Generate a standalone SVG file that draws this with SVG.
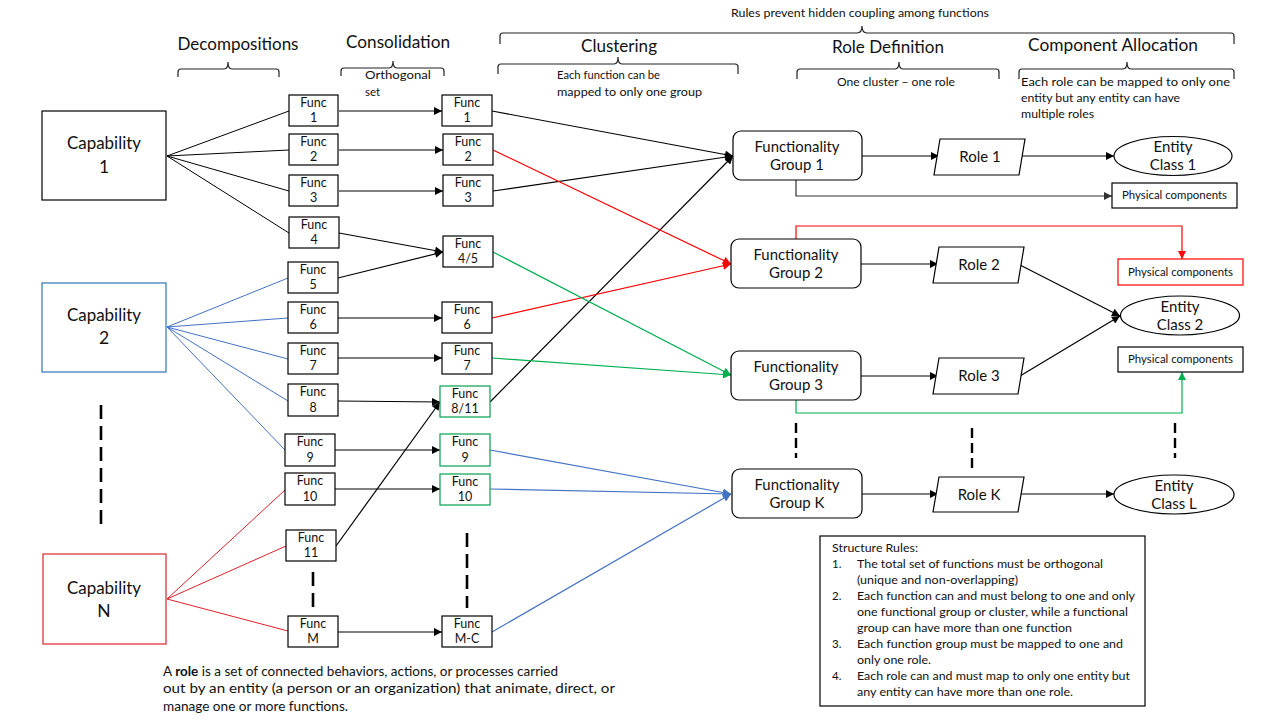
<svg xmlns="http://www.w3.org/2000/svg" width="1280" height="720" viewBox="0 0 1280 720">
<defs>
<style>
text{font-family:Lato,"Liberation Sans",sans-serif;fill:#111}
.hd{font-size:17px;text-anchor:middle}
.sm{font-size:11.5px}
.smc{font-size:11.5px;text-anchor:middle}
.fn{font-size:12.5px;text-anchor:middle}
.cap{font-size:17.5px;text-anchor:middle}
.md{font-size:15px;text-anchor:middle}
.box{fill:#fff;stroke:#000;stroke-width:1.2}
.gbox{fill:#fff;stroke:#00A050;stroke-width:1.2}
.br{fill:none;stroke:#222;stroke-width:1.2}
.k{fill:none;stroke:#000;stroke-width:1.2}
.kg{fill:none;stroke:#333;stroke-width:1.2}
.r{fill:none;stroke:#FF0000;stroke-width:1.2}
.rc{fill:none;stroke:#E0202A;stroke-width:1}
.g{fill:none;stroke:#00B050;stroke-width:1.2}
.b{fill:none;stroke:#4472C4;stroke-width:1.2}
.bc{fill:none;stroke:#4472C4;stroke-width:1}
.kc{fill:none;stroke:#000;stroke-width:1}
.d1{fill:none;stroke:#000;stroke-width:2.6;stroke-dasharray:14 7}
.d2{fill:none;stroke:#000;stroke-width:2.4;stroke-dasharray:10 5}
</style>
<marker id="ak" viewBox="0 0 10 10" refX="10" refY="5" markerWidth="9" markerHeight="8" markerUnits="userSpaceOnUse" orient="auto"><path d="M0,0 L10,5 L0,10 z" fill="#000"/></marker>
<marker id="akg" viewBox="0 0 10 10" refX="10" refY="5" markerWidth="9" markerHeight="8" markerUnits="userSpaceOnUse" orient="auto"><path d="M0,0 L10,5 L0,10 z" fill="#333"/></marker>
<marker id="ar" viewBox="0 0 10 10" refX="10" refY="5" markerWidth="9" markerHeight="8" markerUnits="userSpaceOnUse" orient="auto"><path d="M0,0 L10,5 L0,10 z" fill="#FF0000"/></marker>
<marker id="ag" viewBox="0 0 10 10" refX="10" refY="5" markerWidth="9" markerHeight="8" markerUnits="userSpaceOnUse" orient="auto"><path d="M0,0 L10,5 L0,10 z" fill="#00B050"/></marker>
<marker id="ab" viewBox="0 0 10 10" refX="10" refY="5" markerWidth="9" markerHeight="8" markerUnits="userSpaceOnUse" orient="auto"><path d="M0,0 L10,5 L0,10 z" fill="#4472C4"/></marker>
</defs>
<rect width="1280" height="720" fill="#fff"/>

<g id="headers">
<text x="860" y="17" class="smc" textLength="258" lengthAdjust="spacingAndGlyphs">Rules prevent hidden coupling among functions</text>
<path class="br" d="M500,44 L500,36 Q500,33 503,33 L857,33 Q862,33 862,26 Q862,33 867,33 L1231,33 Q1234,33 1234,36 L1234,44"/>
<text x="238" y="50" class="hd" textLength="121" lengthAdjust="spacingAndGlyphs">Decompositions</text>
<path class="br" d="M178,77 L178,72 Q178,69 181,69 L224,69 Q228,69 228,62 Q228,69 232,69 L276,69 Q279,69 279,72 L279,77"/>
<text x="398" y="48" class="hd" textLength="104" lengthAdjust="spacingAndGlyphs">Consolidation</text>
<path class="br" d="M341,76 L341,71 Q341,68 344,68 L389,68 Q393,68 393,61 Q393,68 397,68 L441,68 Q444,68 444,71 L444,76"/>
<text x="365" y="79" class="sm" textLength="66" lengthAdjust="spacingAndGlyphs">Orthogonal</text>
<text x="365" y="96" class="sm">set</text>
<text x="619" y="52" class="hd" textLength="76" lengthAdjust="spacingAndGlyphs">Clustering</text>
<path class="br" d="M498,74 L498,67 Q498,64 501,64 L614,64 Q618,64 618,57 Q618,64 622,64 L735,64 Q738,64 738,67 L738,74"/>
<text x="557" y="79" class="sm" textLength="103" lengthAdjust="spacingAndGlyphs">Each function can be</text>
<text x="557" y="96" class="sm" textLength="145" lengthAdjust="spacingAndGlyphs">mapped to only one group</text>
<text x="888" y="53" class="hd" textLength="112" lengthAdjust="spacingAndGlyphs">Role Definition</text>
<path class="br" d="M797,79 L797,72 Q797,69 800,69 L895,69 Q899,69 899,62 Q899,69 903,69 L996,69 Q999,69 999,72 L999,79"/>
<text x="896" y="86" class="smc" textLength="118" lengthAdjust="spacingAndGlyphs">One cluster – one role</text>
<text x="1113" y="51" class="hd" textLength="170" lengthAdjust="spacingAndGlyphs">Component Allocation</text>
<path class="br" d="M1019,79 L1019,72 Q1019,69 1022,69 L1123,69 Q1127,69 1127,62 Q1127,69 1131,69 L1231,69 Q1234,69 1234,72 L1234,79"/>
<text x="1021" y="86" class="sm" textLength="209" lengthAdjust="spacingAndGlyphs">Each role can be mapped to only one</text>
<text x="1021" y="102" class="sm" textLength="159" lengthAdjust="spacingAndGlyphs">entity but any entity can have</text>
<text x="1021" y="118" class="sm" textLength="73" lengthAdjust="spacingAndGlyphs">multiple roles</text>
</g>

<g id="connectors">
<path class="kc" d="M167,156 L289,111 M167,156 L289,150 M167,156 L289,191 M167,156 L289,233"/>
<path class="bc" d="M167,327 L288,278 M167,327 L288,318 M167,327 L288,359 M167,327 L288,401 M167,327 L285,450"/>
<path class="rc" d="M167,599 L285,490 M167,599 L286,546 M167,599 L288,631"/>
<line class="k" x1="339" y1="111" x2="442" y2="111" marker-end="url(#ak)"/>
<line class="k" x1="339" y1="150" x2="443" y2="150" marker-end="url(#ak)"/>
<line class="k" x1="339" y1="191" x2="443" y2="191" marker-end="url(#ak)"/>
<line class="k" x1="339" y1="233" x2="443" y2="252" marker-end="url(#ak)"/>
<line class="k" x1="338" y1="278" x2="443" y2="252" marker-end="url(#ak)"/>
<line class="k" x1="338" y1="318" x2="442" y2="318" marker-end="url(#ak)"/>
<line class="k" x1="338" y1="358" x2="442" y2="358" marker-end="url(#ak)"/>
<line class="k" x1="338" y1="401" x2="440" y2="402" marker-end="url(#ak)"/>
<line class="k" x1="336" y1="546" x2="440" y2="402" marker-end="url(#ak)"/>
<line class="k" x1="335" y1="450" x2="440" y2="450" marker-end="url(#ak)"/>
<line class="k" x1="335" y1="489" x2="440" y2="489" marker-end="url(#ak)"/>
<line class="k" x1="338" y1="632" x2="442" y2="632" marker-end="url(#ak)"/>
<line class="k" x1="492" y1="111" x2="733" y2="156" marker-end="url(#ak)"/>
<line class="k" x1="493" y1="191" x2="733" y2="156" marker-end="url(#ak)"/>
<line class="k" x1="490" y1="402" x2="733" y2="156" marker-end="url(#ak)"/>
<line class="r" x1="493" y1="150" x2="731" y2="264" marker-end="url(#ar)"/>
<line class="r" x1="492" y1="318" x2="731" y2="264" marker-end="url(#ar)"/>
<line class="g" x1="493" y1="252" x2="731" y2="375" marker-end="url(#ag)"/>
<line class="g" x1="492" y1="358" x2="731" y2="375" marker-end="url(#ag)"/>
<line class="b" x1="490" y1="450" x2="731" y2="494" marker-end="url(#ab)"/>
<line class="b" x1="490" y1="489" x2="731" y2="494" marker-end="url(#ab)"/>
<line class="b" x1="492" y1="632" x2="731" y2="494" marker-end="url(#ab)"/>
<line class="k" x1="862" y1="156" x2="939" y2="156" marker-end="url(#ak)"/>
<line class="k" x1="861" y1="264" x2="938" y2="264" marker-end="url(#ak)"/>
<line class="k" x1="861" y1="376" x2="938" y2="376" marker-end="url(#ak)"/>
<line class="k" x1="862" y1="494" x2="938" y2="494" marker-end="url(#ak)"/>
<line class="k" x1="1022" y1="156" x2="1114" y2="156" marker-end="url(#ak)"/>
<line class="k" x1="1020" y1="265" x2="1120" y2="316" marker-end="url(#ak)"/>
<line class="k" x1="1020" y1="376" x2="1120" y2="316" marker-end="url(#ak)"/>
<line class="k" x1="1021" y1="494" x2="1114" y2="494" marker-end="url(#ak)"/>
<path class="kg" d="M796,180 L796,196 L1112,196" marker-end="url(#akg)"/>
<path class="r" d="M796,239 L796,226 L1182,226 L1182,259" marker-end="url(#ar)"/>
<path class="g" d="M796,400 L796,413 L1182,413 L1182,372" marker-end="url(#ag)"/>
<line class="d1" x1="101" y1="405" x2="101" y2="531"/>
<line class="d1" x1="313" y1="572" x2="313" y2="608"/>
<line class="d1" x1="467" y1="533" x2="467" y2="608"/>
<line class="d2" x1="796" y1="423" x2="796" y2="458"/>
<line class="d2" x1="972" y1="428" x2="972" y2="468"/>
<line class="d2" x1="1175" y1="423" x2="1175" y2="458"/>
</g>

<g id="capability-1"><rect class="box" x="42" y="111" width="124" height="89"/><text x="104" y="149" class="cap" textLength="74" lengthAdjust="spacingAndGlyphs">Capability</text><text x="104" y="173" class="cap">1</text></g>
<g id="capability-2"><rect x="42" y="283" width="124" height="89" fill="#fff" stroke="#2E75B6" stroke-width="1.2"/><text x="104" y="321" class="cap" textLength="74" lengthAdjust="spacingAndGlyphs">Capability</text><text x="104" y="344" class="cap">2</text></g>
<g id="capability-n"><rect x="43" y="554" width="123" height="90" fill="#fff" stroke="#D9262C" stroke-width="1.2"/><text x="104" y="594" class="cap" textLength="74" lengthAdjust="spacingAndGlyphs">Capability</text><text x="104" y="617" class="cap">N</text></g>

<g id="func-1"><rect class="box" x="289" y="95" width="49" height="31"/><text x="313.5" y="107" class="fn">Func</text><text x="313.5" y="122" class="fn">1</text></g>
<g id="func-2"><rect class="box" x="289" y="134" width="49" height="31"/><text x="313.5" y="146" class="fn">Func</text><text x="313.5" y="161" class="fn">2</text></g>
<g id="func-3"><rect class="box" x="289" y="175" width="49" height="31"/><text x="313.5" y="187" class="fn">Func</text><text x="313.5" y="202" class="fn">3</text></g>
<g id="func-4"><rect class="box" x="289" y="217" width="50" height="31"/><text x="314" y="229" class="fn">Func</text><text x="314" y="244" class="fn">4</text></g>
<g id="func-5"><rect class="box" x="288" y="262" width="50" height="31"/><text x="313" y="274" class="fn">Func</text><text x="313" y="289" class="fn">5</text></g>
<g id="func-6"><rect class="box" x="288" y="302" width="50" height="31"/><text x="313" y="314" class="fn">Func</text><text x="313" y="329" class="fn">6</text></g>
<g id="func-7"><rect class="box" x="288" y="343" width="50" height="31"/><text x="313" y="355" class="fn">Func</text><text x="313" y="370" class="fn">7</text></g>
<g id="func-8"><rect class="box" x="288" y="384" width="50" height="32"/><text x="313" y="396" class="fn">Func</text><text x="313" y="412" class="fn">8</text></g>
<g id="func-9"><rect class="box" x="285" y="434" width="50" height="32"/><text x="310" y="446" class="fn">Func</text><text x="310" y="462" class="fn">9</text></g>
<g id="func-10"><rect class="box" x="285" y="473" width="50" height="32"/><text x="310" y="485" class="fn">Func</text><text x="310" y="501" class="fn">10</text></g>
<g id="func-11"><rect class="box" x="286" y="530" width="50" height="31"/><text x="311" y="542" class="fn">Func</text><text x="311" y="557" class="fn">11</text></g>
<g id="func-m"><rect class="box" x="288" y="616" width="50" height="31"/><text x="313" y="628" class="fn">Func</text><text x="313" y="643" class="fn">M</text></g>

<g id="cons-1"><rect class="box" x="442" y="95" width="50" height="31"/><text x="467" y="107" class="fn">Func</text><text x="467" y="122" class="fn">1</text></g>
<g id="cons-2"><rect class="box" x="443" y="134" width="50" height="31"/><text x="468" y="146" class="fn">Func</text><text x="468" y="161" class="fn">2</text></g>
<g id="cons-3"><rect class="box" x="443" y="175" width="50" height="31"/><text x="468" y="187" class="fn">Func</text><text x="468" y="202" class="fn">3</text></g>
<g id="cons-4-5"><rect class="box" x="443" y="236" width="50" height="31"/><text x="468" y="248" class="fn">Func</text><text x="468" y="263" class="fn">4/5</text></g>
<g id="cons-6"><rect class="box" x="442" y="302" width="50" height="31"/><text x="467" y="314" class="fn">Func</text><text x="467" y="329" class="fn">6</text></g>
<g id="cons-7"><rect class="box" x="442" y="343" width="50" height="31"/><text x="467" y="355" class="fn">Func</text><text x="467" y="370" class="fn">7</text></g>
<g id="cons-8-11"><rect class="gbox" x="440" y="386" width="50" height="31"/><text x="465" y="398" class="fn">Func</text><text x="465" y="413" class="fn">8/11</text></g>
<g id="cons-9"><rect class="gbox" x="440" y="434" width="50" height="32"/><text x="465" y="446" class="fn">Func</text><text x="465" y="462" class="fn">9</text></g>
<g id="cons-10"><rect class="gbox" x="440" y="474" width="50" height="31"/><text x="465" y="486" class="fn">Func</text><text x="465" y="501" class="fn">10</text></g>
<g id="cons-m-c"><rect class="box" x="442" y="616" width="50" height="31"/><text x="467" y="628" class="fn">Func</text><text x="467" y="643" class="fn">M-C</text></g>

<g id="group-1"><rect class="box" x="733" y="131" width="129" height="49" rx="8"/><text x="797" y="152" class="md" textLength="85" lengthAdjust="spacingAndGlyphs">Functionality</text><text x="797" y="170" class="md">Group 1</text></g>
<g id="group-2"><rect class="box" x="731" y="239" width="130" height="49" rx="8"/><text x="796" y="260" class="md" textLength="85" lengthAdjust="spacingAndGlyphs">Functionality</text><text x="796" y="278" class="md">Group 2</text></g>
<g id="group-3"><rect class="box" x="731" y="351" width="130" height="49" rx="8"/><text x="796" y="372" class="md" textLength="85" lengthAdjust="spacingAndGlyphs">Functionality</text><text x="796" y="390" class="md">Group 3</text></g>
<g id="group-k"><rect class="box" x="732" y="469" width="130" height="49" rx="8"/><text x="797" y="490" class="md" textLength="85" lengthAdjust="spacingAndGlyphs">Functionality</text><text x="797" y="508" class="md">Group K</text></g>

<g id="role-1"><polygon class="box" points="940,139 1025,139 1019,175 934,175"/><text x="980" y="162" class="md">Role 1</text></g>
<g id="role-2"><polygon class="box" points="939,247 1024,247 1018,283 933,283"/><text x="979" y="270" class="md">Role 2</text></g>
<g id="role-3"><polygon class="box" points="939,358 1024,358 1018,394 933,394"/><text x="979" y="381" class="md">Role 3</text></g>
<g id="role-k"><polygon class="box" points="939,477 1024,477 1018,512 933,512"/><text x="979" y="500" class="md">Role K</text></g>

<g id="entity-1"><ellipse class="box" cx="1173" cy="156" rx="59" ry="19.5"/><text x="1173" y="152" class="md">Entity</text><text x="1173" y="170" class="md">Class 1</text></g>
<g id="entity-2"><ellipse class="box" cx="1180" cy="315.5" rx="59.5" ry="19.5"/><text x="1180" y="312" class="md">Entity</text><text x="1180" y="330" class="md">Class 2</text></g>
<g id="entity-l"><ellipse class="box" cx="1174" cy="494.5" rx="60" ry="19.5"/><text x="1174" y="491" class="md">Entity</text><text x="1174" y="509" class="md">Class L</text></g>

<g id="physical-1"><rect class="box" x="1112" y="183" width="125" height="25"/><text x="1174.5" y="199" class="smc" textLength="105" lengthAdjust="spacingAndGlyphs">Physical components</text></g>
<g id="physical-2"><rect x="1118" y="259" width="125" height="26" fill="#fff" stroke="#FF0000" stroke-width="1.2"/><text x="1180.5" y="276" class="smc" textLength="105" lengthAdjust="spacingAndGlyphs">Physical components</text></g>
<g id="physical-3"><rect class="box" x="1118" y="347" width="125" height="25"/><text x="1180.5" y="363" class="smc" textLength="105" lengthAdjust="spacingAndGlyphs">Physical components</text></g>

<g id="structure-rules">
<rect class="box" x="820" y="536" width="325" height="170"/>
<text x="832" y="552" class="sm" textLength="86" lengthAdjust="spacingAndGlyphs">Structure Rules:</text>
<text x="832" y="568" class="sm">1.</text>
<text x="857" y="568" class="sm" textLength="246" lengthAdjust="spacingAndGlyphs">The total set of functions must be orthogonal</text>
<text x="857" y="584" class="sm" textLength="161" lengthAdjust="spacingAndGlyphs">(unique and non-overlapping)</text>
<text x="832" y="600" class="sm">2.</text>
<text x="857" y="600" class="sm" textLength="278" lengthAdjust="spacingAndGlyphs">Each function can and must belong to one and only</text>
<text x="857" y="616" class="sm" textLength="271" lengthAdjust="spacingAndGlyphs">one functional group or cluster, while a functional</text>
<text x="857" y="632" class="sm" textLength="215" lengthAdjust="spacingAndGlyphs">group can have more than one function</text>
<text x="832" y="648" class="sm">3.</text>
<text x="857" y="648" class="sm" textLength="266" lengthAdjust="spacingAndGlyphs">Each function group must be mapped to one and</text>
<text x="857" y="664" class="sm" textLength="74" lengthAdjust="spacingAndGlyphs">only one role.</text>
<text x="832" y="680" class="sm">4.</text>
<text x="857" y="680" class="sm" textLength="273" lengthAdjust="spacingAndGlyphs">Each role can and must map to only one entity but</text>
<text x="857" y="696" class="sm" textLength="216" lengthAdjust="spacingAndGlyphs">any entity can have more than one role.</text>
</g>

<g id="role-note" font-size="13.5">
<text x="163" y="676" textLength="395" lengthAdjust="spacingAndGlyphs">A <tspan font-weight="bold">role</tspan> is a set of connected behaviors, actions, or processes carried</text>
<text x="163" y="693" textLength="452" lengthAdjust="spacingAndGlyphs">out by an entity (a person or an organization) that animate, direct, or</text>
<text x="163" y="711" textLength="185" lengthAdjust="spacingAndGlyphs">manage one or more functions.</text>
</g>
</svg>
